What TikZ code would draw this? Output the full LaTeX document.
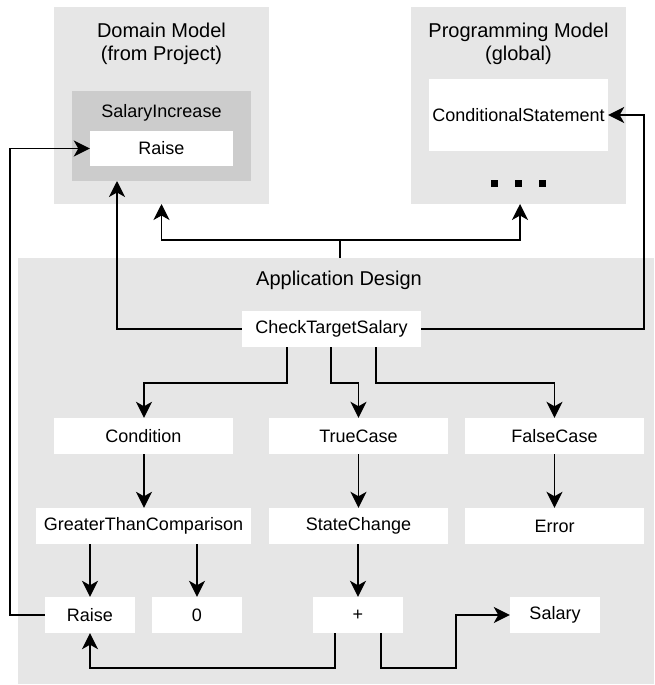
\documentclass[tikz,border=0pt]{standalone}
\usepackage{fontspec}
\setmainfont{Liberation Sans}
\usetikzlibrary{arrows.meta,calc}

\definecolor{panel}{HTML}{E6E6E6}
\definecolor{inner}{HTML}{CCCCCC}

\tikzset{
  lbl/.style={font=\fontsize{18}{21}\selectfont, text=black},
  heading/.style={font=\fontsize{20}{23}\selectfont, align=center, text=black, inner sep=0pt},
  item/.style={lbl, fill=white, inner sep=0pt, minimum height=36pt, minimum width=179pt},
  smallitem/.style={item, minimum width=90pt},
  wire/.style={line width=1.6pt, draw=black},
  arr/.style={wire, -{Stealth[length=16pt,width=16pt,inset=4.5pt]}},
}

\begin{document}
\begin{tikzpicture}[x=1pt, y=-1pt]
\useasboundingbox (0,0) rectangle (654,685);

% containers
\fill[panel] (54,7) rectangle (269,204);
\node[heading] (dmtitle) at (161.5,43.5) {Domain Model\\(from Project)};
\node[fill=inner, minimum width=179pt, minimum height=90pt, inner sep=0pt] (si) at (161.5,136) {};
\node[lbl, inner sep=0pt] (sititle) at (161.5,113) {SalaryIncrease};
\node[item, minimum width=143pt, minimum height=35pt] (raiseTop) at (161.5,148.5) {Raise};
\coordinate (dm) at (161.5,204);

\fill[panel] (411,7) rectangle (626,204);
\node[heading] (pmtitle) at (518.5,43.5) {Programming Model\\(global)};
\node[item, minimum height=72pt] (cs) at (518.5,115) {ConditionalStatement};
\foreach \cx in {494,518.5,542.5}
  \fill[black] (\cx-3.5,180) rectangle (\cx+3.5,187);
\coordinate (pm) at (520,204);

\fill[panel] (18,258) rectangle (654,684);
\node[heading] (adtitle) at (339,280) {Application Design};
\coordinate (ad) at (340,258);

% application design elements
\node[item] (cts) at (331.5,329) {CheckTargetSalary};
\node[item] (cond) at (143.5,436) {Condition};
\node[item] (tc) at (358.5,436) {TrueCase};
\node[item] (fc) at (554.5,436) {FalseCase};
\node[item, minimum width=215pt] (gtc) at (143.5,526) {GreaterThanComparison};
\node[item] (sc) at (358.5,526) {StateChange};
\node[item] (err) at (554.5,526) {Error};
\node[smallitem] (raiseB) at (90,615) {Raise};
\node[smallitem] (zero) at (197,615) {0};
\node[smallitem] (plus) at (358,615) {+};
\node[smallitem] (sal) at (555,615) {Salary};

% links to the models
\coordinate (split) at (340,240);
\draw[wire] (ad) -- (split);
\draw[arr] (split) -| (dm);
\draw[arr] (split) -| (pm);
\draw[arr] (raiseB.west) -- (10,615) -- (10,148.5) -- (raiseTop.west);
\draw[arr] (cts.west) -| (117,181);
\draw[arr] (cts.east) -- (644,329) |- (cs.east);

% control flow
\draw[arr] (287,347) |- (144,383) -- (cond.north -| 144,0);
\draw[arr] (331,347) |- (358.5,383) -- (tc.north);
\draw[arr] (376,347) |- (554.5,383) -- (fc.north);
\draw[arr] (cond.south -| 144,0) -- (gtc.north -| 144,0);
\draw[arr] (tc.south) -- (sc.north);
\draw[arr] (fc.south) -- (err.north);
\draw[arr] (gtc.south -| raiseB.north) -- (raiseB.north);
\draw[arr] (gtc.south -| zero.north) -- (zero.north);
\draw[arr] (sc.south -| plus.north) -- (plus.north);

% operands of the addition
\draw[arr] (plus.south -| 335,0) -- (335,668) -| (raiseB.south);
\draw[arr] (plus.south -| 381,0) -- (381,668) -| (456,615) -- (sal.west);
\end{tikzpicture}
\end{document}
